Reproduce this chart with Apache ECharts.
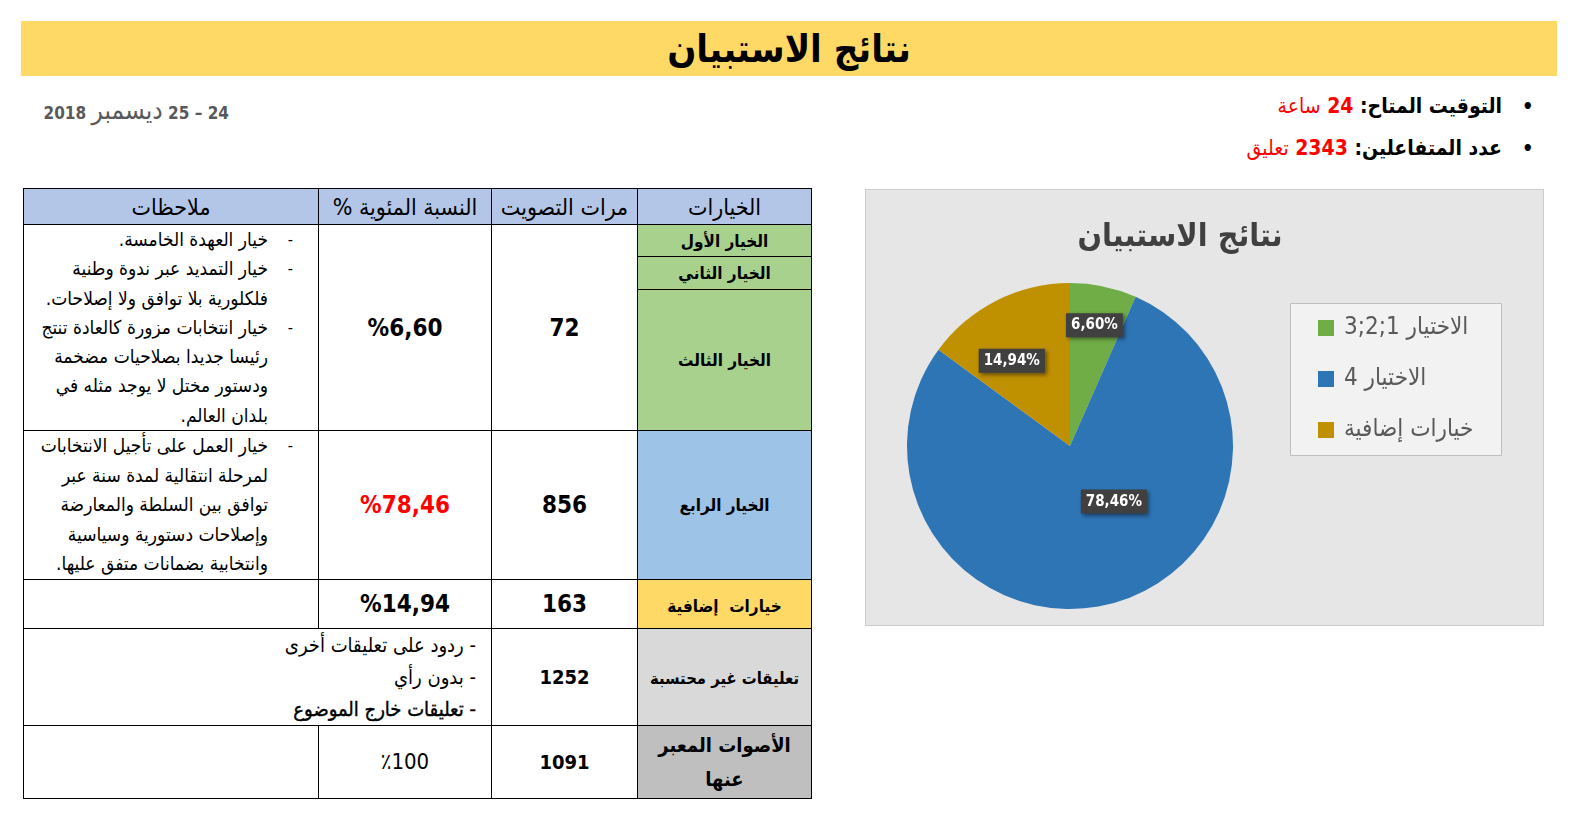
<!DOCTYPE html>
<html lang="ar">
<head>
<meta charset="utf-8">
<script src="https://cdn.jsdelivr.net/npm/echarts@6/dist/echarts.min.js"></script>
<style>
html,body{margin:0;padding:0;background:#fff;}
body{width:1581px;height:820px;position:relative;overflow:hidden;font-family:"DejaVu Sans Condensed","DejaVu Sans",sans-serif;color:#000;}
#titlebar{position:absolute;left:21px;top:21px;width:1536px;height:55px;background:#FFD966;display:flex;align-items:center;justify-content:center;font-weight:bold;font-size:38px;direction:rtl;}
#date{position:absolute;right:1352px;top:96px;direction:rtl;font-size:17px;color:#595959;white-space:nowrap;line-height:28px;font-weight:bold;}
#date .m{font-weight:normal;font-size:26px;}
.bullet{position:absolute;right:79px;direction:rtl;font-size:21px;font-weight:bold;white-space:nowrap;line-height:28px;}
.dot{position:absolute;left:1522px;font-size:20px;line-height:28px;font-weight:bold;}
.red{color:#f00;}
.reg{font-weight:normal;}
table{position:absolute;left:23px;top:188px;width:788px;height:609px;border-collapse:collapse;table-layout:fixed;direction:rtl;}
td,th{border:1px solid #000;padding:0;text-align:center;vertical-align:middle;overflow:hidden;}
th{background:#B4C6E7;font-weight:normal;font-size:23px;line-height:30px;}
.choice{font-weight:bold;font-size:17px;}
.num{font-weight:bold;font-size:24px;}
.num2{font-weight:bold;font-size:20px;}
.notes{text-align:right;font-size:19px;line-height:29.2px;}
.item{position:relative;padding-right:50px;}
.dash{position:absolute;right:25px;top:0;font-size:16px;}
.notes2{text-align:right;font-size:20px;line-height:32px;padding-right:15px;}
#chart{position:absolute;left:866px;top:190px;width:677px;height:435px;direction:rtl;outline:1px solid #cccccc;}
</style>
</head>
<body>
<div id="titlebar"></div>
<div id="date"></div>
<div class="dot" style="top:92px">•</div>
<div class="bullet" id="b1" style="top:92px"></div>
<div class="dot" style="top:134px">•</div>
<div class="bullet" id="b2" style="top:134px"></div>
<table id="tbl"></table>
<div id="chart"></div>
<script>
// ---- text & data ----
const pageTitle = 'نتائج الاستبيان';
const dateParts = ['24 – 25', 'ديسمبر', '2018'];
const infoLabels = ['التوقيت المتاح:', 'عدد المتفاعلين:'];
const infoValues = [24, 2343];
const infoUnits = ['ساعة', 'تعليق'];

const tableHeaders = ['الخيارات', 'مرات التصويت', 'النسبة المئوية %', 'ملاحظات'];
const choiceLabels = ['الخيار الأول', 'الخيار الثاني', 'الخيار الثالث', 'الخيار الرابع', 'خيارات  إضافية', 'تعليقات غير محتسبة', 'الأصوات المعبر عنها'];
const voteCounts = [72, 856, 163, 1252, 1091];
const totalShareLabel = '٪100';
const notesFirstGroup = [
  ['خيار العهدة الخامسة.'],
  ['خيار التمديد عبر ندوة وطنية', 'فلكلورية بلا توافق ولا إصلاحات.'],
  ['خيار انتخابات مزورة كالعادة تنتج', 'رئيسا جديدا بصلاحيات مضخمة', 'ودستور مختل لا يوجد مثله في', 'بلدان العالم.']
];
const notesFourth = [
  ['خيار العمل على تأجيل الانتخابات', 'لمرحلة انتقالية لمدة سنة عبر', 'توافق بين السلطة والمعارضة', 'وإصلاحات دستورية وسياسية', 'وانتخابية بضمانات متفق عليها.']
];
const notesUncounted = ['ردود على تعليقات أخرى', 'بدون رأي', 'تعليقات خارج الموضوع'];

const chartTitle = 'نتائج الاستبيان';
const sliceNames = ['الاختيار 1;2;3', 'الاختيار 4', 'خيارات إضافية'];
const sliceShares = [6.60, 78.46, 14.94];

// ---- styles ----
const FONT = '"DejaVu Sans Condensed","DejaVu Sans",sans-serif';
const sliceColors = ['#70AD47', '#2E75B6', '#BF9000'];
const labelNudge = [[7, -38], [22, -26], [-20, -10]];

const fmt = v => v.toFixed(2).replace('.', ',');

// ---- header area ----
document.getElementById('titlebar').textContent = pageTitle;
document.getElementById('date').innerHTML = dateParts[0] + ' <span class="m">' + dateParts[1] + '</span> ' + dateParts[2];
['b1', 'b2'].forEach((id, i) => {
  document.getElementById(id).innerHTML = infoLabels[i] + ' <span class="red">' + infoValues[i] + ' <span class="reg">' + infoUnits[i] + '</span></span>';
});

// ---- table ----
function itemsHtml(groups) {
  return groups.map(lines => '<div class="item"><span class="dash">-</span>' + lines.join('<br>') + '</div>').join('');
}
const rowHeights = [36, 32, 33, 141, 148, 49, 97, 73];
const colWidths = [174, 146, 173, 295];
const choiceBg = ['#A9D18E', '#A9D18E', '#A9D18E', '#9DC3E6', '#FFD966', '#D9D9D9', '#BFBFBF'];
let h = '<colgroup>' + colWidths.map(w => '<col style="width:' + w + 'px">').join('') + '</colgroup>';
h += '<tr style="height:' + rowHeights[0] + 'px">' + tableHeaders.map(t => '<th>' + t + '</th>').join('') + '</tr>';
const cc = (i, extra) => '<td class="choice" style="background:' + choiceBg[i] + ';' + (extra || '') + '">' + choiceLabels[i] + '</td>';
h += '<tr style="height:' + rowHeights[1] + 'px">' + cc(0) +
  '<td rowspan="3" class="num">' + voteCounts[0] + '</td>' +
  '<td rowspan="3" class="num">%' + fmt(sliceShares[0]) + '</td>' +
  '<td rowspan="3" class="notes">' + itemsHtml(notesFirstGroup) + '</td></tr>';
h += '<tr style="height:' + rowHeights[2] + 'px">' + cc(1) + '</tr>';
h += '<tr style="height:' + rowHeights[3] + 'px">' + cc(2) + '</tr>';
h += '<tr style="height:' + rowHeights[4] + 'px">' + cc(3) +
  '<td class="num">' + voteCounts[1] + '</td>' +
  '<td class="num" style="color:#f00">%' + fmt(sliceShares[1]) + '</td>' +
  '<td class="notes" style="line-height:29.6px">' + itemsHtml(notesFourth) + '</td></tr>';
h += '<tr style="height:' + rowHeights[5] + 'px">' + cc(4, 'white-space:pre;padding-top:4px') +
  '<td class="num">' + voteCounts[2] + '</td>' +
  '<td class="num">%' + fmt(sliceShares[2]) + '</td><td></td></tr>';
h += '<tr style="height:' + rowHeights[6] + 'px">' + cc(5, 'font-size:16.5px;padding-top:4px') +
  '<td class="num2">' + voteCounts[3] + '</td>' +
  '<td colspan="2" class="notes2">' + notesUncounted.map((t, i) => '<div' + (i === 2 ? ' style="-webkit-text-stroke:0.4px #000"' : '') + '>- ' + t + '</div>').join('') + '</td></tr>';
h += '<tr style="height:' + rowHeights[7] + 'px">' + cc(6, 'font-size:20px;line-height:34px').replace('المعبر ', 'المعبر<br>') +
  '<td class="num2">' + voteCounts[4] + '</td>' +
  '<td style="font-size:22px">' + totalShareLabel + '</td><td></td></tr>';
document.getElementById('tbl').innerHTML = h;

// ---- pie chart ----
const chart = echarts.init(document.getElementById('chart'), null, {renderer: 'canvas'});
chart.setOption({
  animation: false,
  backgroundColor: '#E7E6E6',
  color: sliceColors,
  title: {
    text: chartTitle,
    left: 314, top: 32, textAlign: 'center', padding: 0,
    textStyle: {fontSize: 32, fontWeight: 'bold', color: '#404040', fontFamily: FONT}
  },
  graphic: [{
    type: 'rect', left: 424, top: 113, z: -10, silent: true,
    shape: {width: 211, height: 152},
    style: {fill: '#F2F2F2', stroke: '#BFBFBF', lineWidth: 1}
  }],
  legend: {
    orient: 'vertical', left: 452, top: 124, padding: 0,
    itemWidth: 16, itemHeight: 16, itemGap: 23, icon: 'rect',
    selectedMode: false,
    textStyle: {fontSize: 24, lineHeight: 28, color: '#595959', fontFamily: FONT, padding: [0, 0, 0, 5]},
    data: sliceNames
  },
  series: [{
    type: 'pie',
    center: [204, 256],
    radius: 163,
    startAngle: 90,
    clockwise: true,
    silent: true,
    emphasis: {disabled: true},
    data: sliceNames.map((n, i) => ({name: n, value: sliceShares[i]})),
    label: {
      show: true, position: 'inside',
      formatter: p => fmt(p.value) + '%',
      color: '#fff', fontWeight: 'bold', fontSize: 15, fontFamily: FONT,
      backgroundColor: '#404040', padding: [5, 5, 4, 5],
      shadowBlur: 4, shadowOffsetX: 2, shadowOffsetY: 2, shadowColor: 'rgba(0,0,0,0.45)'
    },
    labelLine: {show: false},
    labelLayout: params => ({dx: labelNudge[params.dataIndex][0], dy: labelNudge[params.dataIndex][1]})
  }]
});
</script>
</body>
</html>
